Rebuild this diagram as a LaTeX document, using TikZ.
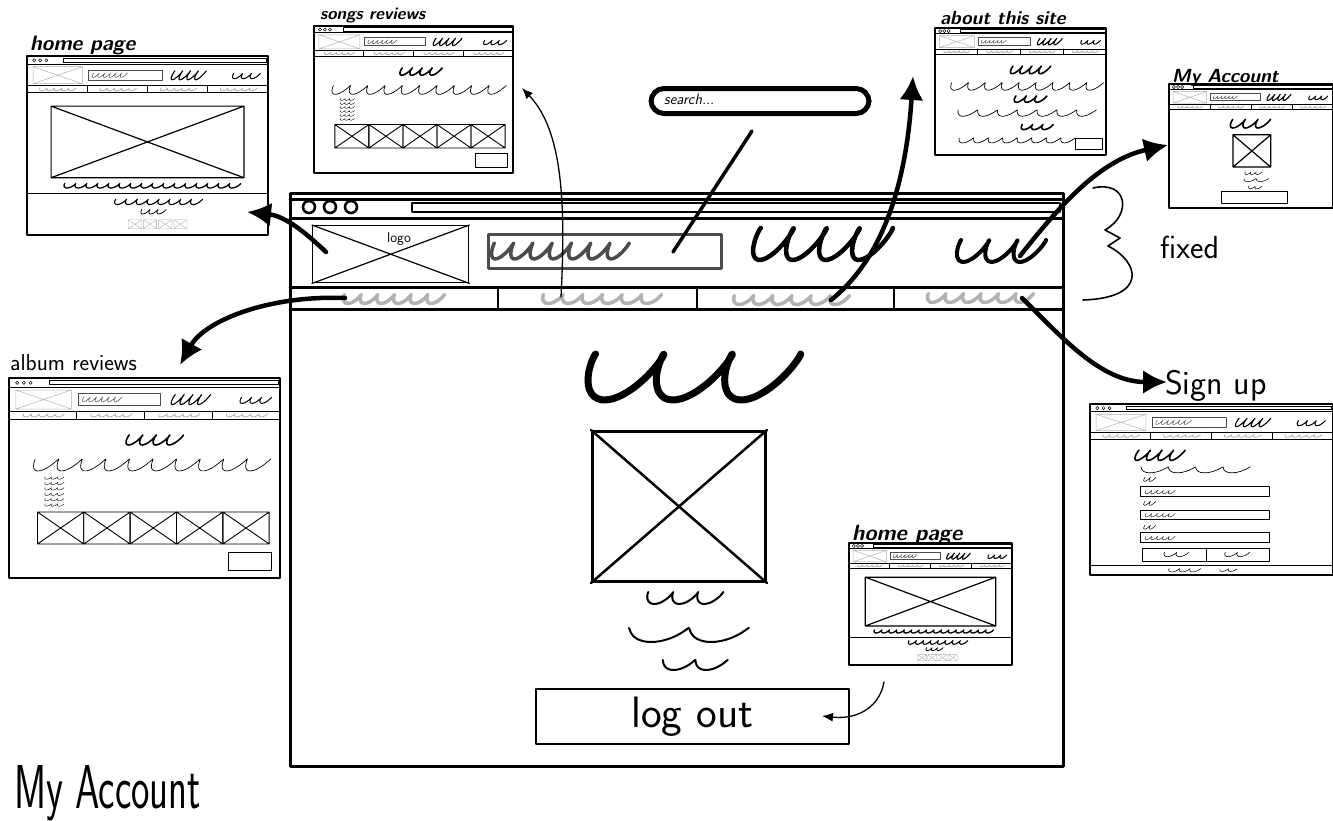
\documentclass[tikz,border=0pt]{standalone}
\usepackage{fontspec}
\usepackage{graphicx}
\usetikzlibrary{arrows.meta}
\tikzset{
 tl/.style={line width=0.9pt},
 tl2/.style={line width=1.2pt},
 tdot/.style={circle, draw, line width=0.5pt, inner sep=0pt, minimum size=3.2pt},
 thumbframe/.style={draw, line width=1.4pt, anchor=north west, inner sep=0pt, outer sep=0pt},
 mainframe/.style={draw, line width=3pt, anchor=north west, inner sep=0pt, outer sep=0pt},
 mline/.style={line width=3pt},
 bdot/.style={circle, draw, line width=2.6pt, inner sep=0pt, minimum size=12pt},
 mk/.style={font={\sffamily\bfseries\itshape\fontsize{#1}{#1}\selectfont}, inner sep=0pt},
 pen/.style={font={\sffamily\fontsize{#1}{#1}\selectfont}, inner sep=0pt},
 bigarrow/.style={line width=4.5pt, -{Latex[length=24pt,width=24pt]}},
 thinarrow/.style={line width=1.3pt, -{Latex[length=11pt,width=9pt]}},
 bracestyle/.style={line width=1.6pt},
}
\def\scribslant{0.55}
% scribble: [style]{x0}{y0}{length}{height}{turns}{loopiness}
\newcommand\scrib[7][]{%
 \pgfmathtruncatemacro\scribN{(#6)*14+2}%
 \gdef\scribpts{}%
 \foreach \sk in {0,...,\scribN}{%
   \pgfmathsetmacro\sct{\sk/\scribN}%
   \pgfmathsetmacro\spx{(#2)+(#4)*(\sct-(#7)*sin(\sct*(#6)*360)/(6.2832*(#6)))+\scribslant*0.5*(#5)*cos(\sct*(#6)*360)}%
   \pgfmathsetmacro\spy{(#3)-0.5*(#5)*cos(\sct*(#6)*360)}%
   \xdef\scribpts{\scribpts (\spx,\spy)}}%
 \draw[#1] plot[smooth] coordinates {\scribpts};}
\newcommand\xbox[5][]{\draw[#1] ({#2},{#3}) rectangle ({#4},{#5}) ({#2},{#3}) -- ({#4},{#5}) ({#2},{#5}) -- ({#4},{#3});}
\newcommand\thumbchrome{%
 \draw[tl] (0,0.045) -- (1,0.045);
 \draw[tl] (0.15,0.012) rectangle (0.995,0.034);
 \foreach \q in {0.03,0.055,0.08}{\node[tdot] at (\q,0.024) {};}
 \draw[tl] (0,0.165) -- (1,0.165) (0,0.205) -- (1,0.205);
 \foreach \q in {0.25,0.5,0.75}{\draw[tl] (\q,0.165) -- (\q,0.205);}
 \xbox[gray!60, line width=0.5pt]{0.025}{0.06}{0.23}{0.155}
 \draw[gray!60!black, line width=0.9pt] (0.255,0.078) rectangle (0.56,0.135);
 \scrib[gray!60!black, line width=0.5pt]{0.27}{0.107}{0.14}{0.025}{6}{1.05}
 \scrib[line width=1.1pt]{0.6}{0.108}{0.13}{0.05}{4}{1.15}
 \scrib[line width=1pt]{0.85}{0.112}{0.11}{0.03}{3}{1.05}
 \foreach \q in {0.05,0.3,0.55,0.8}{\scrib[gray!70, line width=0.7pt]{\q}{0.187}{0.15}{0.015}{5}{1}}
}
\newcommand\thumb[6]{%
 \node[thumbframe, minimum width=#4pt, minimum height=#5pt] (#1) at (#2,#3) {};
 \begin{scope}[shift={(#2,#3)}, xscale=#4, yscale=#5]
  \thumbchrome
  #6
 \end{scope}}
\newcommand\homecontent{%
 \xbox[tl2]{0.1}{0.28}{0.9}{0.68}
 \scrib[line width=1.3pt]{0.15}{0.725}{0.73}{0.025}{16}{1.05}
 \draw[tl] (0,0.77) -- (1,0.77);
 \scrib[line width=1.1pt]{0.36}{0.815}{0.36}{0.03}{8}{1.05}
 \scrib[line width=0.8pt]{0.47}{0.87}{0.1}{0.025}{3}{1.05}
 \foreach \i in {0,...,3}{\xbox[gray!60, line width=0.4pt]{0.42+\i*0.063}{0.915}{0.475+\i*0.063}{0.965}}
}
\newcommand\reviewcontent{%
 \scrib[line width=1.6pt]{0.43}{0.31}{0.2}{0.05}{4}{1.15}
 \scrib[line width=0.7pt]{0.08}{0.435}{0.87}{0.06}{10}{0.8}
 \foreach \i in {0,...,5}{\scrib[line width=0.4pt]{0.13}{0.5+\i*0.027}{0.07}{0.012}{3}{1}}
 \foreach \i in {0,...,4}{\xbox[tl]{0.105+\i*0.171}{0.67}{0.276+\i*0.171}{0.83}}
 \draw[tl] (0.81,0.87) rectangle (0.97,0.96);
}
\newcommand\aboutcontent{%
 \scrib[line width=1.6pt]{0.44}{0.33}{0.22}{0.06}{4}{1.15}
 \scrib[line width=0.7pt]{0.08}{0.46}{0.89}{0.06}{9}{0.8}
 \scrib[line width=1.6pt]{0.46}{0.56}{0.18}{0.05}{3}{1.15}
 \scrib[line width=0.7pt]{0.12}{0.67}{0.81}{0.05}{7}{0.75}
 \scrib[line width=1.6pt]{0.5}{0.78}{0.18}{0.04}{3}{1.1}
 \scrib[line width=0.7pt]{0.13}{0.885}{0.68}{0.04}{8}{0.75}
 \draw[tl] (0.82,0.87) rectangle (0.98,0.96);
}
\newcommand\acctcontent{%
 \scrib[line width=1.6pt]{0.37}{0.32}{0.23}{0.07}{3}{1.1}
 \xbox[tl2]{0.39}{0.41}{0.62}{0.67}
 \scrib[line width=0.5pt]{0.46}{0.72}{0.1}{0.02}{3}{1}
 \scrib[line width=0.5pt]{0.45}{0.775}{0.15}{0.025}{2}{0.8}
 \scrib[line width=0.5pt]{0.48}{0.835}{0.08}{0.02}{2}{0.8}
 \draw[tl] (0.32,0.87) rectangle (0.72,0.96);
}
\newcommand\signupcontent{%
 \scrib[line width=1.6pt]{0.185}{0.3}{0.19}{0.06}{4}{1.15}
 \scrib[line width=0.7pt]{0.2}{0.385}{0.45}{0.035}{4}{0.8}
 \foreach \yy/\fy in {0.44/0.485,0.58/0.62,0.72/0.754}{%
   \scrib[line width=0.5pt]{0.22}{\yy}{0.045}{0.025}{2}{1}
   \draw[tl] (0.206,\fy) rectangle (0.74,{\fy+0.058});
   \scrib[gray!40!black, line width=0.5pt]{0.225}{\fy+0.03}{0.12}{0.02}{5}{1}}
 \draw[tl] (0.214,0.842) rectangle (0.737,0.918) (0.48,0.842) -- (0.48,0.918);
 \scrib[line width=0.6pt]{0.3}{0.88}{0.1}{0.025}{2}{1}
 \scrib[line width=0.6pt]{0.55}{0.88}{0.1}{0.025}{2}{1}
 \draw[tl] (0,0.947) -- (1,0.947);
 \scrib[line width=0.5pt]{0.32}{0.972}{0.13}{0.02}{3}{1}
 \scrib[line width=0.5pt]{0.53}{0.972}{0.07}{0.015}{2}{0.8}
}
\begin{document}
\begin{tikzpicture}[x=1pt,y=-1pt,line cap=round,line join=round]
\useasboundingbox[fill=white] (0,0) rectangle (1333,820);

% ---- thumbnails ----
\thumb{thHome}{27}{56}{241}{179}{\homecontent}
\thumb{thSongs}{314}{26}{199}{147}{\reviewcontent}
\thumb{thAbout}{935}{28}{171}{127}{\aboutcontent}
\thumb{thAcct}{1169}{84}{164}{124}{\acctcontent}
\thumb{thAlbum}{9}{378}{271}{200}{\reviewcontent}
\thumb{thSign}{1090}{404}{243}{171}{\signupcontent}
\thumb{thHomeB}{849}{543}{163}{122}{\homecontent}

% ---- labels ----
\node[mk=21, anchor=base west] (lHome) at (30,50) {home page};
\node[mk=17, anchor=base west] (lSongs) at (320,19) {songs reviews};
\node[mk=19, anchor=base west] (lAbout) at (940,24) {about this site};
\node[mk=19, anchor=base west] (lAcct) at (1172,82) {My Account};
\node[pen=23, anchor=base west] (lAlbum) at (10,370) {album reviews};
\node[pen=34, anchor=base west] (lSign) at (1165,394) {Sign up};
\node[mk=22, anchor=base west] (lHomeB) at (852,540) {home page};
\node[pen=32, anchor=base west] (lFixed) at (1160,258) {fixed};
\node[pen=62, anchor=base west] (lBottom) at (14,808) {\scalebox{0.63}[1]{My Account}};

% ---- main browser ----
\node[mainframe, minimum width=773pt, minimum height=573pt] (main) at (290,193) {};
\draw[mline] (290,199) -- (1063,199);
\draw[line width=2.5pt] (412,203) rectangle (1060,212);
\draw[mline] (290,218) -- (1063,218);
\node[bdot] (d1) at (309,207) {};
\node[bdot] (d2) at (330,207) {};
\node[bdot] (d3) at (351,207) {};
\node[draw, line width=1.4pt, anchor=north west, minimum width=156pt, minimum height=57pt, inner sep=0pt] (logo) at (312,225) {};
\draw[line width=1.2pt] (logo.north west) -- (logo.south east) (logo.south west) -- (logo.north east);
\node[pen=14] (logotxt) at (399,239) {logo};
\node[draw=gray!60!black, line width=3pt, anchor=north west, minimum width=233pt, minimum height=34pt, inner sep=0pt] (sbox) at (487,233) {};
\scrib[gray!60!black, line width=3.5pt]{490}{251}{135}{16}{7}{1.0}
\scrib[line width=4.5pt]{752}{244}{132}{32}{4}{1.2}
\scrib[line width=4pt]{955}{251}{85}{22}{3}{1.1}
\draw[mline] (290,287) -- (1063,287);
\draw[mline] (290,309) -- (1063,309);
\foreach \q in {498,697,894}{\draw[line width=2.5pt] (\q,287) -- (\q,309);}
\scrib[gray!60, line width=3.5pt]{342}{299}{100}{9}{6}{1.0}
\scrib[gray!60, line width=3.5pt]{541}{299}{118}{9}{6}{1.0}
\scrib[gray!60, line width=3.5pt]{732}{300}{115}{9}{6}{1.0}
\scrib[gray!60, line width=3.5pt]{926}{298}{105}{9}{6}{1.0}
% content
\scrib[line width=7pt]{583}{377}{205}{46}{3}{1.1}
\node[draw, line width=3pt, anchor=north west, minimum width=173pt, minimum height=150pt, inner sep=0pt] (img) at (591,430) {};
\draw[line width=2.5pt] (img.north west) -- (img.south east) (img.south west) -- (img.north east);
\scrib[line width=2pt]{645}{598}{75}{12}{3}{1.0}
\scrib[line width=2pt]{625}{635}{120}{14}{2}{0.8}
\scrib[line width=2pt]{660}{665}{65}{10}{2}{0.8}
\node[draw, line width=1.8pt, anchor=north west, minimum width=313pt, minimum height=55pt, pen=44] (logout) at (535,688) {log out};

% ---- search pill ----
\node[draw, line width=5pt, rounded corners=13pt, minimum width=218pt, minimum height=25pt, inner sep=0pt] (pill) at (760,101) {};
\node[anchor=west, inner sep=0pt, font={\sffamily\itshape\fontsize{15}{15}\selectfont}] (searchtxt) at (664,99) {search...};

% ---- connector end points ----
\coordinate (sA) at (673,252);
\coordinate (sB) at (752,131);
\coordinate (hS) at (326,252);
\coordinate (hE) at (247,212);
\coordinate (alS) at (345,298);
\coordinate (alE) at (180,365);
\coordinate (soS) at (561,297);
\coordinate (soE) at (522,88);
\coordinate (abS) at (831,300);
\coordinate (abE) at (913,76);
\coordinate (acS) at (1020,256);
\coordinate (acE) at (1168,145);
\coordinate (siS) at (1022,298);
\coordinate (siE) at (1167,382);
\coordinate (loS) at (884,682);
\coordinate (loE) at (822,716);
\coordinate (bTop) at (1093,188);
\coordinate (bBot) at (1083,300);

% ---- connectors ----
\draw[line width=3.5pt] (sA) -- (sB);
\draw[bigarrow] (hS) .. controls (305,232) and (285,216) .. (hE);
\draw[bigarrow] (alS) .. controls (270,295) and (205,320) .. (alE);
\draw[thinarrow] (soS) .. controls (566,200) and (562,130) .. (soE);
\draw[bigarrow] (abS) .. controls (875,265) and (905,200) .. (abE);
\draw[bigarrow] (acS) .. controls (1060,205) and (1100,160) .. (acE);
\draw[bigarrow] (siS) .. controls (1060,335) and (1100,382) .. (siE);
\draw[thinarrow] (loS) .. controls (880,705) and (860,720) .. (loE);
\draw[bracestyle] (bTop) .. controls (1128,180) and (1132,215) .. (1105,230) -- (1120,238) -- (1108,246) .. controls (1140,262) and (1148,298) .. (bBot);
\end{tikzpicture}
\end{document}
